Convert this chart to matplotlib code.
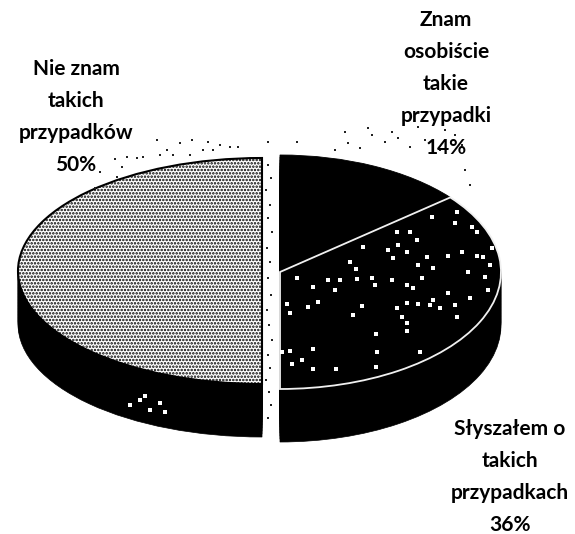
import matplotlib
matplotlib.use("Agg")
import matplotlib.pyplot as plt

labels = ["Znam\nosobiście\ntakie\nprzypadki\n14%", "Słyszałem o\ntakich\nprzypadkach\n36%", "Nie znam\ntakich\nprzypadków\n50%"]
values = [14, 36, 50]

# scan specks (pixel positions)
white_x = [297, 313, 328, 335, 340, 357, 350, 356, 372, 375, 392, 407, 413, 422, 398, 407, 393, 388, 417, 363, 410, 397,
           432, 457, 455, 472, 477, 462, 448, 427, 418, 433, 468, 485, 488, 470, 448, 455, 440, 430, 433, 418, 407, 397,
           402, 407, 407, 376, 377, 376, 362, 353, 318, 308, 290, 287, 313, 290, 282, 302, 292, 313, 336, 420, 457, 483,
           492, 477, 490, 130, 140, 150, 160, 165, 145]
white_y = [278, 287, 280, 290, 280, 279, 262, 269, 278, 285, 280, 285, 288, 278, 245, 252, 258, 250, 240, 247, 232, 232,
           217, 212, 223, 227, 232, 252, 256, 257, 265, 268, 272, 277, 290, 298, 293, 305, 308, 305, 300, 304, 303, 308,
           317, 323, 331, 334, 352, 367, 306, 315, 302, 307, 313, 304, 349, 351, 352, 360, 364, 369, 369, 352, 317, 257,
           248, 256, 265, 405, 400, 410, 403, 412, 396]
black_x = [157, 180, 192, 208, 220, 230, 238, 268, 297, 115, 127, 137, 143, 160, 167, 173, 190, 203, 213, 122, 117, 100, 95,
           268, 271, 266, 270, 268, 272, 267, 270, 268, 271, 267, 269, 272, 268, 270, 266, 269, 271, 268,
           335, 348, 360, 372, 385, 398, 410, 425, 440, 455, 345, 368, 392, 418, 445, 462, 465, 470]
black_y = [140, 143, 140, 142, 145, 147, 147, 142, 142, 159, 157, 158, 157, 155, 150, 155, 155, 150, 150, 167, 177, 172, 188,
           165, 178, 190, 205, 218, 232, 248, 262, 278, 295, 310, 325, 340, 355, 368, 380, 392, 405, 418,
           150, 143, 148, 135, 142, 138, 147, 140, 150, 135, 132, 128, 132, 127, 130, 145, 170, 185]

W, H = 575, 534
fig = plt.figure(figsize=(W / 100, H / 100), dpi=100, facecolor="white")
plt.rcParams["hatch.linewidth"] = 1.2


def pie_layer(cx, cy, a, b, depth, shown):
    ax = fig.add_axes([0, 0, 1, 1], facecolor="none")
    for d in list(range(depth, 0, -3)):
        w, _ = ax.pie(values, startangle=90, counterclock=False, center=(0, -d / b),
                      radius=1, frame=False, wedgeprops=dict(facecolor="black", edgecolor="black", linewidth=0.5))
        for i, wedge in enumerate(w):
            wedge.set_visible(i in shown)
    w, _ = ax.pie(values, startangle=90, counterclock=False, radius=1, frame=False)
    for i, wedge in enumerate(w):
        wedge.set_visible(i in shown)
    styles = [dict(facecolor="black", edgecolor="black", hatch=None, linewidth=0.6),
              dict(facecolor="black", edgecolor="#f0f0f0", hatch=None, linewidth=1.3),
              dict(facecolor="white", edgecolor="black", hatch=".....", linewidth=1.5)]
    for i, wedge in enumerate(w):
        wedge.set(**styles[i])
    ax.set_aspect("auto")
    ax.set_xlim((0 - cx) / a, (W - cx) / a)
    ax.set_ylim((cy - H) / b, cy / b)
    ax.axis("off")
    return ax, w


pie_layer(280, 272, 221, 117, 53, {0, 1})
pie_layer(262, 271, 244, 113, 53, {2})

overlay = fig.add_axes([0, 0, 1, 1], facecolor="none")
overlay.set_xlim(0, W)
overlay.set_ylim(H, 0)
overlay.axis("off")
overlay.scatter(white_x, white_y, s=7, marker="s", color="white", linewidths=0)
overlay.scatter(black_x, black_y, s=3, marker="s", color="#222222", linewidths=0)

font = dict(family="Lato", fontsize=15, fontweight="bold", color="black",
            ha="center", va="center", linespacing=1.75)
positions = [(446, 84), (510, 477), (76, 117)]
for lab, (x, y) in zip(labels, positions):
    fig.text(x / W, 1 - y / H, lab, **font)

fig.savefig("out.png", dpi=100)
